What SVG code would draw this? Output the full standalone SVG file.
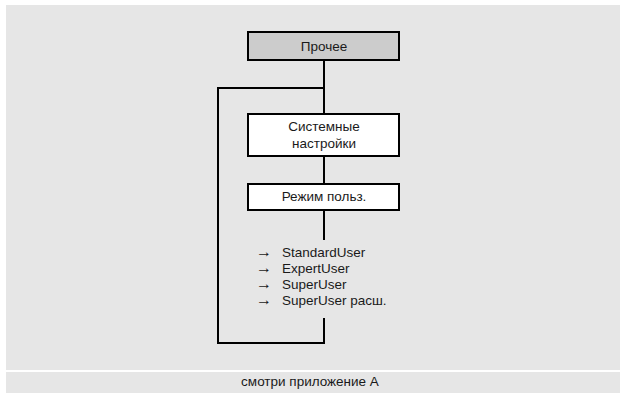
<svg xmlns="http://www.w3.org/2000/svg" width="620" height="394" viewBox="0 0 620 394">
<style>
.bg{fill:#e6e6e6}
.box{fill:#ffffff;stroke:#000;stroke-width:2}
.top{fill:#cccccc;stroke:#000;stroke-width:2}
.ln{fill:none;stroke:#000;stroke-width:2}
text{font-family:"Liberation Sans",Arial,sans-serif;font-size:13.5px;fill:#1a1a1a}
.c{text-anchor:middle}
.ar{font-size:16px}
</style>
<rect width="620" height="394" fill="#ffffff"/>
<rect class="bg" x="6" y="5" width="614" height="365"/>
<rect class="bg" x="6" y="372" width="614" height="21"/>
<g id="connectors">
<path class="ln" d="M324 61V113"/>
<path class="ln" d="M324 88H218V343H324V318"/>
<path class="ln" d="M324 157V184"/>
<path class="ln" d="M324 211V240"/>
</g>
<g id="node-prochee">
<rect class="top" x="248" y="32" width="151" height="28"/>
<text class="c" x="324" y="51">Прочее</text>
</g>
<g id="node-system">
<rect class="box" x="248" y="114" width="151" height="42"/>
<text class="c" x="324" y="131">Системные</text>
<text class="c" x="324" y="148">настройки</text>
</g>
<g id="node-mode">
<rect class="box" x="248" y="184" width="151" height="26"/>
<text class="c" x="324" y="201">Режим польз.</text>
</g>
<g id="list">
<text x="256" y="257"><tspan class="ar">→</tspan><tspan x="282">StandardUser</tspan></text>
<text x="256" y="273"><tspan class="ar">→</tspan><tspan x="282">ExpertUser</tspan></text>
<text x="256" y="289"><tspan class="ar">→</tspan><tspan x="282">SuperUser</tspan></text>
<text x="256" y="305"><tspan class="ar">→</tspan><tspan x="282">SuperUser расш.</tspan></text>
</g>
<text class="c" x="310" y="386">смотри приложение А</text>
</svg>
